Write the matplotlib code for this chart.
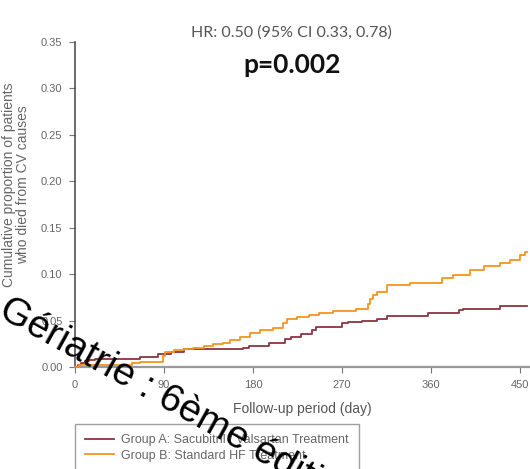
import matplotlib
matplotlib.use("Agg")
import matplotlib.pyplot as plt

# cumulative CV death, step curves (day, proportion)
days_a = [0, 3, 6, 10, 14, 20, 66, 84, 97, 110, 170, 176, 196, 212, 218, 228,
          240, 244, 270, 276, 290, 305, 315, 357, 388, 392, 430, 457]
prop_a = [0, 0.002, 0.004, 0.006, 0.008, 0.009, 0.011, 0.014, 0.016, 0.019,
          0.021, 0.023, 0.026, 0.030, 0.032, 0.036, 0.040, 0.043, 0.047, 0.048,
          0.050, 0.052, 0.055, 0.058, 0.061, 0.063, 0.0655, 0.0655]

days_b = [0, 4, 58, 66, 89, 91, 100, 110, 119, 130, 140, 150, 157, 167, 177,
          187, 200, 210, 214, 224, 237, 247, 261, 284, 296, 298, 301, 305, 315,
          339, 371, 382, 399, 413, 430, 440, 450, 455, 457]
prop_b = [0, 0.002, 0.004, 0.005, 0.012, 0.0165, 0.018, 0.019, 0.021, 0.0226,
          0.0245, 0.026, 0.029, 0.0326, 0.037, 0.040, 0.042, 0.047, 0.052, 0.054,
          0.056, 0.058, 0.0605, 0.063, 0.068, 0.073, 0.078, 0.081, 0.088, 0.091,
          0.0955, 0.099, 0.1045, 0.109, 0.112, 0.115, 0.1205, 0.124, 0.124]

label_a = "Group A: Sacubitril / Valsartan Treatment"
label_b = "Group B: Standard HF Treatment"
x_ticks = [0, 90, 180, 270, 360, 450]
y_ticks = [0.00, 0.05, 0.10, 0.15, 0.20, 0.25, 0.30, 0.35]

color_a = "#8a3440"
color_b = "#f7941d"
grey = "#666666"

W, H = 530, 469
fig = plt.figure(figsize=(W / 100, H / 100), dpi=100)
ax = fig.add_axes([75 / W, 1 - 367 / H, 455 / W, 325 / H])

ax.step(days_a, prop_a, where="post", color=color_a, lw=1.3, label=label_a, zorder=3)
ax.step(days_b, prop_b, where="post", color=color_b, lw=1.3, label=label_b, zorder=3)

ax.set_xlim(0, 460)
ax.set_ylim(0, 0.35)
ax.set_xticks(x_ticks)
ax.set_yticks(y_ticks)
ax.set_yticklabels([f"{v:.2f}" for v in y_ticks])

for s in ["top", "right"]:
    ax.spines[s].set_visible(False)
ax.spines["left"].set_color("#444444")
ax.spines["left"].set_linewidth(1.1)
ax.spines["bottom"].set_color("#999999")
ax.spines["bottom"].set_linewidth(1.6)
ax.tick_params(axis="both", direction="out", length=4, width=0.8, colors="#777777",
               labelcolor=grey, labelsize=8, pad=5)
for lab in ax.get_xticklabels() + ax.get_yticklabels():
    lab.set_family("Liberation Sans")

ax.set_xlabel("Follow-up period (day)", fontsize=10, color="#555555",
              family="Liberation Sans", labelpad=9)
fig.text(16 / W, 1 - 185 / H, "Cumulative proportion of patients\nwho died from CV causes",
         rotation=90, ha="center", va="center", fontsize=10, color=grey,
         family="Liberation Sans", linespacing=1.0)

fig.text(291 / W, 1 - 33 / H, "HR: 0.50 (95% CI 0.33, 0.78)", ha="center", va="center",
         fontsize=11.5, color="#555555", family="Lato")
fig.text(292 / W, 1 - 65 / H, "p=0.002", ha="center", va="center",
         fontsize=19, fontweight="bold", color="#111111", family="Lato")

leg = fig.legend(loc="upper left", bbox_to_anchor=(75 / W, 1 - 424 / H),
                 borderaxespad=0, frameon=True, fancybox=False, edgecolor="#888888",
                 handlelength=2.3, handletextpad=0.6, borderpad=0.8,
                 labelspacing=0.3, prop={"family": "Liberation Sans", "size": 9})
leg.get_frame().set_linewidth(1.0)
for t in leg.get_texts():
    t.set_color(grey)

fig.text(-3 / W, 1 - 316 / H, "Gériatrie : 6ème édition", rotation=-29,
         rotation_mode="anchor", ha="left", va="baseline", fontsize=28,
         color="black", family="Liberation Sans", zorder=10)

fig.savefig("out.png", dpi=100)
